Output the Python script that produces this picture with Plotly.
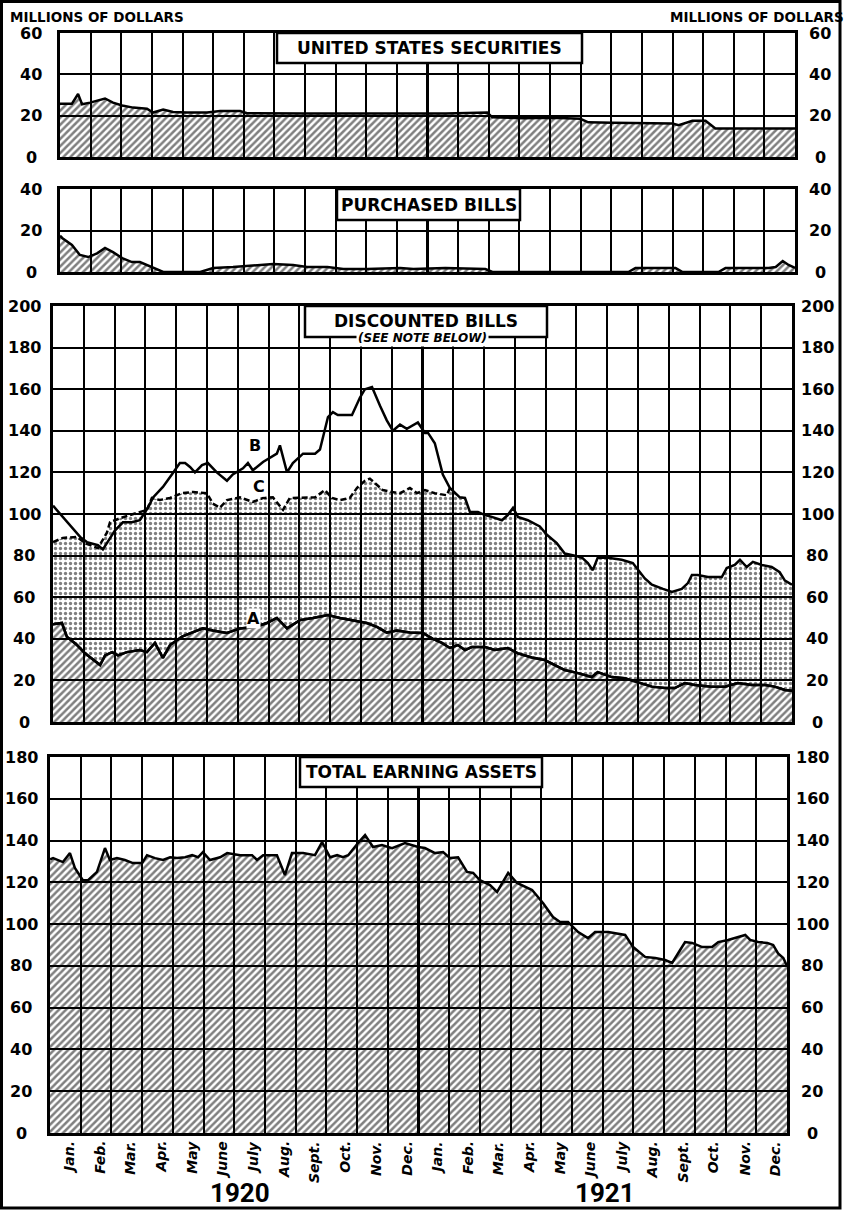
import plotly.graph_objects as go

W, H = 850, 1212

# ---------------- DATA (x = months from Jan 1920; 0..24) ----------------
sec_t = [0.0, 0.39, 0.59, 0.72, 0.98, 1.24, 1.47, 1.73, 2.03, 2.39, 2.84, 3.04, 3.37, 3.69, 4.15,
         4.8, 5.23, 5.88, 6.11, 8.0, 10.0, 12.0, 12.6, 13.95, 14.12, 15.1, 16.08, 16.99, 17.25,
         18.04, 20.0, 20.2, 20.65, 21.08, 21.4, 24.0]
sec_v = [25.8, 25.8, 30.5, 25.5, 26.3, 27.3, 28.3, 26.3, 24.9, 23.9, 23.4, 21.5, 23.0, 21.8, 21.5,
         21.5, 22.2, 22.2, 21.2, 21.0, 21.0, 21.0, 21.0, 21.5, 19.2, 18.8, 19.0, 18.5, 16.8,
         16.6, 16.2, 15.4, 17.5, 17.5, 13.8, 13.8]

pur_t = [0.0, 0.07, 0.39, 0.65, 0.92, 1.21, 1.47, 1.73, 2.03, 2.35, 2.61, 2.84, 3.17, 3.37, 4.58,
         5.0, 5.65, 6.54, 6.96, 7.61, 8.07, 8.73, 9.25, 10.03, 11.11, 11.54, 12.58, 13.89, 14.12,
         18.56, 18.79, 20.1, 20.33, 21.5, 21.73, 23.14, 23.37, 23.6, 23.79, 24.0]
pur_v = [17.5, 16.4, 13.0, 8.2, 7.2, 9.0, 11.6, 9.6, 6.7, 4.8, 4.8, 3.4, 1.0, 0.0, 0.0,
         1.9, 2.4, 3.4, 3.9, 3.4, 2.4, 2.4, 1.4, 1.4, 1.9, 1.4, 1.9, 1.4, 0.0,
         0.0, 1.9, 1.9, 0.0, 0.0, 1.9, 1.9, 2.4, 5.3, 3.4, 2.0]

# Discounted bills: A (lower hatched), C (dashed, 1920), B (solid)
disc_a_t = [0.0, 0.29, 0.45, 0.78, 1.04, 1.3, 1.53, 1.69, 1.92, 2.11, 2.4, 2.82, 3.05, 3.31, 3.57,
            3.8, 4.19, 4.51, 4.87, 5.19, 5.65, 6.07, 6.56, 6.95, 7.27, 7.6, 8.02, 8.44, 8.93,
            9.32, 9.74, 10.19, 10.52, 10.84, 11.17, 11.59, 12.01, 12.34, 12.63, 12.89, 13.15,
            13.38, 13.6, 14.03, 14.35, 14.77, 15.1, 15.55, 15.97, 16.3, 16.62, 17.05, 17.5,
            17.69, 18.15, 18.57, 19.0, 19.45, 19.87, 20.19, 20.52, 20.84, 21.4, 21.82, 22.24,
            22.69, 23.12, 23.44, 23.77, 24.0]
disc_a_v = [47.0, 47.6, 41.0, 37.0, 33.0, 30.0, 27.4, 32.0, 33.6, 32.0, 33.6, 34.6, 33.6, 38.0, 30.8,
            37.0, 41.0, 43.0, 45.0, 44.0, 42.8, 45.0, 45.7, 47.6, 50.0, 45.0, 49.0, 50.0, 51.4,
            50.0, 49.0, 47.6, 45.7, 43.0, 44.0, 43.0, 42.8, 40.0, 38.0, 35.6, 37.0,
            34.6, 36.0, 36.0, 34.6, 35.6, 33.0, 31.0, 29.8, 27.4, 25.0, 23.5, 21.6,
            24.0, 21.6, 21.0, 19.0, 17.0, 16.3, 16.3, 18.7, 17.8, 17.0, 17.0, 18.7,
            17.8, 17.8, 17.0, 15.4, 15.0]

disc_c_t = [0.0, 0.32, 0.78, 1.04, 1.46, 1.75, 1.85, 2.18, 2.5, 2.82, 3.05, 3.21, 3.47, 3.8, 4.19,
            4.55, 5.0, 5.19, 5.42, 5.65, 6.07, 6.49, 6.82, 7.14, 7.47, 7.69, 8.12, 8.51, 8.83,
            9.06, 9.32, 9.64, 9.87, 10.13, 10.29, 10.52, 10.71, 11.01, 11.27, 11.59, 11.82,
            12.08, 12.4, 12.79]
disc_c_v = [86.5, 88.5, 89.0, 86.0, 83.6, 91.0, 96.0, 98.0, 99.5, 101.0, 102.0, 107.7, 106.7, 107.7, 110.0,
            110.6, 110.0, 105.0, 103.0, 106.7, 108.0, 105.8, 107.7, 108.0, 102.0, 107.7, 107.7, 108.0, 111.5,
            107.7, 106.7, 107.7, 112.5, 116.0, 117.0, 114.0, 111.5, 110.6, 110.0, 112.5, 110.0,
            111.5, 110.0, 109.0]

disc_b_t = [0.0, 0.88, 1.1, 1.46, 1.62, 2.01, 2.27, 2.56, 2.82, 3.08, 3.25, 3.57, 3.86, 4.12, 4.29,
            4.45, 4.61, 4.84, 5.03, 5.32, 5.65, 5.84, 6.17, 6.33, 6.49, 6.82, 7.27, 7.37, 7.6,
            7.79, 8.12, 8.51, 8.67, 8.93, 9.09, 9.25, 9.71, 9.97, 10.13, 10.36, 10.62, 10.84,
            11.04, 11.27, 11.49, 11.85, 12.08, 12.18, 12.4, 12.56, 12.66, 12.89, 13.05, 13.21,
            13.38, 13.54, 13.8, 14.03, 14.25, 14.58, 14.77, 14.94, 15.1, 15.42, 15.81, 16.04,
            16.36, 16.62, 16.95, 17.18, 17.37, 17.53, 17.69, 18.02, 18.47, 18.83, 19.22, 19.45,
            19.81, 20.1, 20.42, 20.62, 20.75, 20.94, 21.27, 21.72, 21.88, 22.14, 22.31, 22.53,
            22.73, 23.02, 23.34, 23.6, 23.77, 24.0]
disc_b_v = [104.0, 89.0, 86.5, 85.0, 83.0, 92.0, 96.0, 96.0, 97.0, 103.0, 108.0, 113.0, 119.0, 124.5, 124.5,
            122.6, 120.0, 123.5, 124.5, 120.0, 116.0, 119.0, 122.0, 124.5, 121.0, 125.0, 129.0, 133.0, 120.0,
            124.5, 129.0, 129.0, 131.0, 146.6, 149.0, 147.6, 147.6, 156.0, 160.0, 161.0, 152.0, 145.0,
            140.0, 143.0, 141.0, 144.0, 139.0, 139.0, 134.0, 124.5, 119.0, 112.5, 110.0, 108.0,
            107.7, 101.0, 101.0, 99.5, 98.6, 97.0, 99.5, 103.0, 98.6, 97.0, 94.0, 90.0,
            86.0, 81.0, 80.0, 79.0, 76.4, 73.0, 79.0, 79.0, 78.0, 76.4, 69.0, 66.0,
            64.0, 62.5, 64.0, 66.8, 70.7, 70.7, 69.7, 69.7, 74.0, 75.5, 78.0, 74.5,
            77.0, 75.5, 74.5, 72.0, 68.0, 66.0]

tot_t = [0.0, 0.1, 0.42, 0.65, 0.81, 1.07, 1.24, 1.53, 1.79, 1.95, 2.18, 2.44, 2.7, 3.0, 3.16, 3.42,
         3.68, 3.91, 4.14, 4.4, 4.63, 4.82, 4.98, 5.21, 5.54, 5.77, 6.19, 6.58, 6.74, 6.94, 7.39,
         7.65, 7.88, 8.24, 8.63, 8.86, 9.12, 9.35, 9.54, 9.71, 10.03, 10.26, 10.52, 10.81, 11.14,
         11.56, 11.99, 12.21, 12.54, 12.8, 13.03, 13.29, 13.58, 13.78, 14.0, 14.33, 14.56, 14.92,
         15.21, 15.47, 15.7, 16.06, 16.38, 16.61, 16.87, 17.2, 17.52, 17.75, 18.18, 18.73, 18.99,
         19.38, 19.71, 20.03, 20.26, 20.52, 20.68, 20.91, 21.24, 21.56, 21.76, 22.08, 22.38,
         22.64, 22.8, 23.06, 23.36, 23.55, 23.71, 23.88, 24.0]
tot_v = [131.0, 131.6, 129.7, 134.0, 126.9, 121.0, 121.0, 125.0, 136.4, 130.7, 131.6, 130.7, 129.2, 129.2, 133.0, 131.6,
         130.7, 132.0, 131.6, 132.0, 133.0, 132.0, 134.5, 130.7, 132.0, 134.0, 133.0, 133.0, 130.7, 133.0, 133.0,
         123.5, 134.0, 134.0, 133.0, 139.3, 132.0, 133.0, 132.0, 133.0, 138.8, 142.6, 136.9, 137.8, 136.4,
         138.8, 136.9, 136.4, 134.0, 134.5, 131.6, 132.0, 125.0, 124.5, 121.0, 118.7, 115.4, 124.5,
         119.7, 117.8, 116.3, 110.0, 103.4, 101.0, 101.0, 96.2, 93.3, 96.2, 96.2, 94.8, 89.0,
         84.3, 83.8, 82.8, 81.4, 87.6, 91.4, 91.0, 89.0, 89.0, 91.4, 92.4, 93.8,
         94.8, 92.4, 91.4, 91.0, 90.0, 86.0, 83.8, 80.0]

months = ["Jan.", "Feb.", "Mar.", "Apr.", "May", "June", "July", "Aug.", "Sept.", "Oct.", "Nov.", "Dec.",
          "Jan.", "Feb.", "Mar.", "Apr.", "May", "June", "July", "Aug.", "Sept.", "Oct.", "Nov.", "Dec."]
years = ["1920", "1921"]
ticks_sec = [0, 20, 40, 60]
ticks_pur = [0, 20, 40]
ticks_disc = [0, 20, 40, 60, 80, 100, 120, 140, 160, 180, 200]
ticks_tot = [0, 20, 40, 60, 80, 100, 120, 140, 160, 180]
titles = ["UNITED STATES SECURITIES", "PURCHASED BILLS", "DISCOUNTED BILLS", "TOTAL EARNING ASSETS"]

# ---------------- LAYOUT GEOMETRY (pixels) ----------------
panels = [
    dict(x0=60, x1=795, y0=33, y1=157, ymax=60, ticks=ticks_sec, box=(277, 582, 33, 63)),
    dict(x0=60, x1=795, y0=189, y1=272, ymax=40, ticks=ticks_pur, box=(337, 520, 189, 220)),
    dict(x0=53, x1=792, y0=306, y1=722, ymax=200, ticks=ticks_disc, box=(305, 547, 306, 337)),
    dict(x0=50, x1=787, y0=757, y1=1133, ymax=180, ticks=ticks_tot, box=(300, 542, 757, 787)),
]

FONT = "DejaVu Sans"
HATCH = dict(shape="/", fgcolor="black", bgcolor="rgba(0,0,0,0)", size=5, solidity=0.5)
DOTS = dict(shape=".", fgcolor="black", bgcolor="rgba(0,0,0,0)", size=5, solidity=0.35)


def px(x):
    return x / W


def py(y):
    return 1 - y / H


def axn(i):
    return "" if i == 1 else str(i)


fig = go.Figure()

# Panel 1
fig.add_trace(go.Scatter(x=sec_t, y=sec_v, mode="lines", line=dict(color="black", width=2.5),
                         fill="tozeroy", fillcolor="rgba(0,0,0,0)", fillpattern=HATCH,
                         xaxis="x", yaxis="y", hoverinfo="skip"))
# Panel 2
fig.add_trace(go.Scatter(x=pur_t, y=pur_v, mode="lines", line=dict(color="black", width=2.5),
                         fill="tozeroy", fillcolor="rgba(0,0,0,0)", fillpattern=HATCH,
                         xaxis="x2", yaxis="y2", hoverinfo="skip"))
# Panel 3
c_last = disc_c_t[-1]
c_full_t = disc_c_t + [t for t in disc_b_t if t > c_last + 0.1]
c_full_v = disc_c_v + [v for t, v in zip(disc_b_t, disc_b_v) if t > c_last + 0.1]
fig.add_trace(go.Scatter(x=disc_a_t, y=disc_a_v, mode="lines", line=dict(color="black", width=2.5),
                         fill="tozeroy", fillcolor="rgba(0,0,0,0)", fillpattern=HATCH,
                         xaxis="x3", yaxis="y3", hoverinfo="skip"))
fig.add_trace(go.Scatter(x=c_full_t, y=c_full_v, mode="lines", line=dict(color="black", width=0),
                         fill="tonexty", fillcolor="rgba(0,0,0,0)", fillpattern=DOTS,
                         xaxis="x3", yaxis="y3", hoverinfo="skip"))
fig.add_trace(go.Scatter(x=disc_a_t, y=disc_a_v, mode="lines", line=dict(color="black", width=2.5),
                         xaxis="x3", yaxis="y3", hoverinfo="skip"))
fig.add_trace(go.Scatter(x=disc_c_t + [c_full_t[len(disc_c_t)]], y=disc_c_v + [c_full_v[len(disc_c_v)]],
                         mode="lines", line=dict(color="black", width=2.5, dash="6px,3px"),
                         xaxis="x3", yaxis="y3", hoverinfo="skip"))
fig.add_trace(go.Scatter(x=disc_b_t, y=disc_b_v, mode="lines", line=dict(color="black", width=2.5),
                         xaxis="x3", yaxis="y3", hoverinfo="skip"))
# Panel 4
fig.add_trace(go.Scatter(x=tot_t, y=tot_v, mode="lines", line=dict(color="black", width=2.5),
                         fill="tozeroy", fillcolor="rgba(0,0,0,0)", fillpattern=HATCH,
                         xaxis="x4", yaxis="y4", hoverinfo="skip"))

layout = dict(width=W, height=H, autosize=False, margin=dict(l=0, r=0, t=0, b=0),
              paper_bgcolor="white", plot_bgcolor="white", showlegend=False,
              font=dict(family=FONT, color="black"))

annotations = []
shapes = []
for i, p in enumerate(panels, start=1):
    n = axn(i)
    layout["xaxis" + n] = dict(domain=[px(p["x0"]), px(p["x1"])], range=[0, 24], anchor="y" + n,
                               showgrid=True, gridcolor="black", gridwidth=1.5, dtick=1, tick0=0,
                               showticklabels=False, ticks="", zeroline=False, showline=True,
                               mirror=True, linecolor="black", linewidth=3, fixedrange=True)
    layout["yaxis" + n] = dict(domain=[py(p["y1"]), py(p["y0"])], range=[0, p["ymax"]], anchor="x" + n,
                               showgrid=True, gridcolor="black", gridwidth=1.5, dtick=20, tick0=0,
                               showticklabels=False, ticks="", zeroline=False, showline=True,
                               mirror=True, linecolor="black", linewidth=3, fixedrange=True)
    # center line (Jan 1921)
    shapes.append(dict(type="line", xref="x" + n, yref="y" + n + " domain", x0=12, x1=12, y0=0, y1=1,
                       line=dict(color="black", width=3)))
    # tick labels on both sides
    for v in p["ticks"]:
        for xc in (p["x0"] - 29, p["x1"] + 25):
            annotations.append(dict(x=px(xc), xref="paper", y=v, yref="y" + n, text="<b>%d</b>" % v,
                                    showarrow=False, xanchor="center", yanchor="middle",
                                    font=dict(size=16, family=FONT)))
    # title box
    bx0, bx1, by0, by1 = p["box"]
    shapes.append(dict(type="rect", xref="paper", yref="paper", x0=px(bx0), x1=px(bx1), y0=py(by1),
                       y1=py(by0), fillcolor="white", line=dict(color="black", width=2.5), layer="above"))
    ty = (by0 + by1) / 2 if i != 3 else by0 + 15
    annotations.append(dict(x=px((bx0 + bx1) / 2), y=py(ty), xref="paper", yref="paper",
                            text="<b>%s</b>" % titles[i - 1], showarrow=False, xanchor="center",
                            yanchor="middle", font=dict(size=17, family=FONT)))

# subtitle on discounted bills box
annotations.append(dict(x=px(422), y=py(338), xref="paper", yref="paper", text="<b><i>(SEE NOTE BELOW)</i></b>",
                        showarrow=False, xanchor="center", yanchor="middle", bgcolor="white",
                        borderpad=1, font=dict(size=12, family=FONT)))

# series labels A, B, C
for lab, lx, ly in (("A", 6.5, 50), ("B", 6.56, 133), ("C", 6.69, 113)):
    annotations.append(dict(x=lx, y=ly, xref="x3", yref="y3", text="<b>%s</b>" % lab, showarrow=False,
                            xanchor="center", yanchor="middle", bgcolor="white", borderpad=0,
                            font=dict(size=16, family=FONT)))

# month labels
for k, m in enumerate(months):
    annotations.append(dict(x=k + 0.6, xref="x4", y=py(1139), yref="paper", text="<b><i>%s</i></b>" % m,
                            textangle=-90, showarrow=False, xanchor="center", yanchor="top",
                            font=dict(size=14, family=FONT)))
# year labels
for yr, xc in zip(years, (240, 605)):
    annotations.append(dict(x=px(xc), y=py(1193), xref="paper", yref="paper", text="<b>%s</b>" % yr,
                            showarrow=False, xanchor="center", yanchor="middle",
                            font=dict(size=26, family="Roboto")))

# units
annotations.append(dict(x=px(8), y=py(17), xref="paper", yref="paper", text="<b>MILLIONS OF DOLLARS</b>",
                        showarrow=False, xanchor="left", yanchor="middle", font=dict(size=13.5, family=FONT)))
annotations.append(dict(x=px(846), y=py(17), xref="paper", yref="paper", text="<b>MILLIONS OF DOLLARS</b>",
                        showarrow=False, xanchor="right", yanchor="middle", font=dict(size=13.5, family=FONT)))

# frame
shapes.append(dict(type="rect", xref="paper", yref="paper", x0=px(1.5), x1=px(840), y0=py(1208), y1=py(1.5),
                   line=dict(color="black", width=3), layer="above"))

layout["annotations"] = annotations
layout["shapes"] = shapes
fig.update_layout(**layout)
fig.write_html("out.html", config={"displayModeBar": False},
               post_script="document.body.style.margin='0';document.body.style.padding='0';"
                           "document.body.style.overflow='hidden';")
